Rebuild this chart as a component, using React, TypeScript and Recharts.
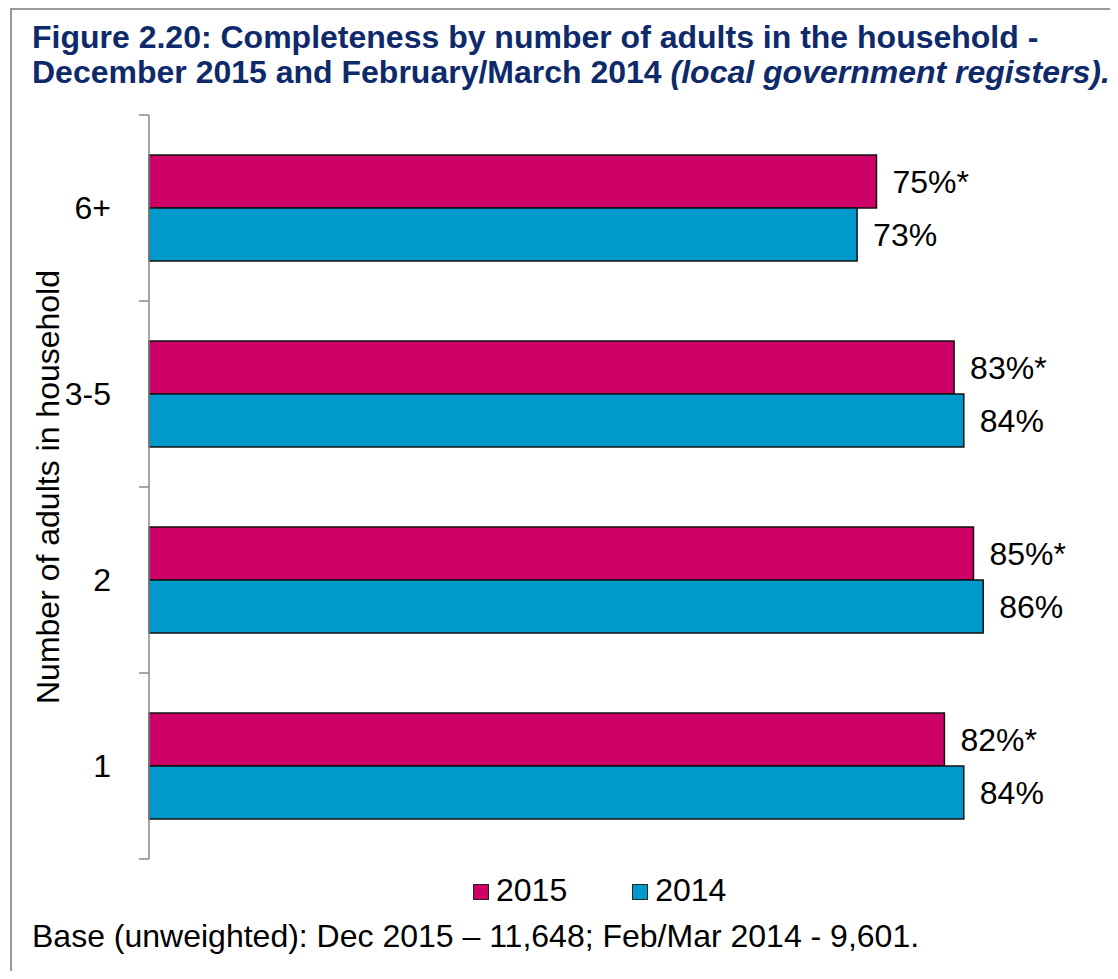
import React from 'react'
import { BarChart, Bar, XAxis, YAxis, LabelList, Label } from 'recharts'

// Households by number of adults, top to bottom as drawn
const GROUPS = ['6+', '3-5', '2', '1']
const VALUES_2015 = [75, 83, 85, 82]
const VALUES_2014 = [73, 84, 86, 84]

const MAGENTA = '#CC0066'
const BLUE = '#0099CC'
const NAVY = '#0E2A6B'
const AXIS_GRAY = '#8a8a8a'
const FONT = '"Liberation Sans", Arial, Helvetica, sans-serif'
const FS = 32

const TICK = 10
const TICK_GAP = 28

const data = GROUPS.map((g, i) => ({ group: g, y2015: VALUES_2015[i], y2014: VALUES_2014[i] }))

// Category label at band centre, plus Excel-style tick marks on the band edges
function CategoryTick(props: any) {
  const { x, y, payload, index, visibleTicksCount } = props
  const axisX = x + TICK + TICK_GAP
  const half = payload.offset || 0
  const last = index === visibleTicksCount - 1
  return (
    <g>
      <line x1={axisX - TICK} x2={axisX} y1={y - half} y2={y - half} stroke={AXIS_GRAY} strokeWidth={1.5} />
      {last && <line x1={axisX - TICK} x2={axisX} y1={y + half} y2={y + half} stroke={AXIS_GRAY} strokeWidth={1.5} />}
      <text x={x} y={y} textAnchor="end" dominantBaseline="central" fontSize={FS} fontFamily={FONT} fill="#000">
        {payload.value}
      </text>
    </g>
  )
}

function AxisTitle({ viewBox }: any) {
  const cx = viewBox.x + 36
  const cy = viewBox.y + viewBox.height / 2
  return (
    <text x={cx} y={cy} transform={`rotate(-90 ${cx} ${cy})`} textAnchor="middle" dominantBaseline="central"
      fontSize={FS} fontFamily={FONT} fill="#000">
      Number of adults in household
    </text>
  )
}

const Swatch = ({ color }: { color: string }) => (
  <span style={{ display: 'inline-block', width: 14, height: 14, background: color, border: '1.5px solid #222', marginRight: 7, marginTop: 3 }} />
)

export default function App() {
  return (
    <div style={{
      position: 'relative', marginLeft: 2, width: 1107, height: 963, boxSizing: 'border-box',
      borderTop: '2px solid #9a9a9a', borderLeft: '2px solid #9a9a9a', borderRight: '2px solid #9a9a9a',
      fontFamily: FONT, background: '#fff',
    }}>
      <div style={{ position: 'absolute', left: 20, top: 10, fontSize: 32, lineHeight: '35px', fontWeight: 700, color: NAVY, whiteSpace: 'nowrap' }}>
        Figure 2.20: Completeness by number of adults in the household -<br />
        December 2015 and February/March 2014 <i>(local government registers).</i>
      </div>

      <div style={{ position: 'absolute', left: 0, top: 0 }}>
        <BarChart width={1100} height={860} data={data} layout="vertical"
          margin={{ top: 105, right: 90, left: 0, bottom: 11 }} barCategoryGap="21.5%" barGap={0}>
          <XAxis type="number" domain={[0, 90]} hide />
          <YAxis type="category" dataKey="group" width={137} axisLine={{ stroke: AXIS_GRAY, strokeWidth: 1.5 }}
            tickLine={false} tickSize={TICK} tickMargin={TICK_GAP} tick={<CategoryTick />} interval={0}>
            <Label content={<AxisTitle />} />
          </YAxis>
          <Bar dataKey="y2015" name="2015" fill={MAGENTA} stroke="#111" strokeWidth={1.5} isAnimationActive={false}>
            <LabelList dataKey="y2015" position="right" offset={16} fontSize={FS} fontFamily={FONT} fill="#000"
              formatter={(v: any) => `${v}%*`} />
          </Bar>
          <Bar dataKey="y2014" name="2014" fill={BLUE} stroke="#111" strokeWidth={1.5} isAnimationActive={false}>
            <LabelList dataKey="y2014" position="right" offset={16} fontSize={FS} fontFamily={FONT} fill="#000"
              formatter={(v: any) => `${v}%`} />
          </Bar>
        </BarChart>
      </div>

      <div style={{ position: 'absolute', left: 461, top: 862, display: 'flex', alignItems: 'center', fontSize: FS, color: '#000' }}>
        <Swatch color={MAGENTA} /><span>2015</span>
        <span style={{ width: 65 }} />
        <Swatch color={BLUE} /><span>2014</span>
      </div>

      <div style={{ position: 'absolute', left: 20, top: 908, fontSize: FS, color: '#000', whiteSpace: 'nowrap' }}>
        Base (unweighted): Dec 2015 – 11,648; Feb/Mar 2014 - 9,601.
      </div>
    </div>
  )
}
